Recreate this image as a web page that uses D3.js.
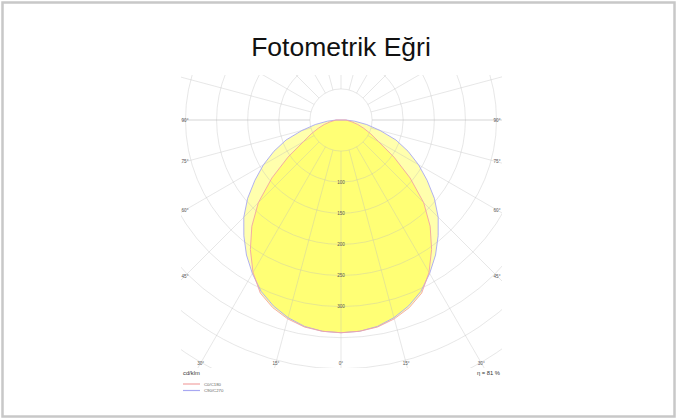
<!DOCTYPE html>
<html>
<head>
<meta charset="utf-8">
<script src="https://cdn.jsdelivr.net/npm/d3@7/dist/d3.min.js"></script>
<style>
  html, body { margin: 0; padding: 0; background: #fff; }
  svg { display: block; }
  text { font-family: "Liberation Sans", Arial, sans-serif; }
</style>
</head>
<body>
<svg id="chart" width="677" height="419"></svg>
<script>
// Gamma angles (degrees from nadir) and luminous intensity in cd/klm
const gammaAngles = [0, 5, 10, 15, 20, 25, 30, 35, 40, 45, 50, 55, 60, 65, 70, 75, 80, 85, 90];
const planeC0C180 = [342, 341, 338, 331, 321, 307, 283, 254, 223, 188, 145, 104, 70, 53, 39, 28, 18, 11, 8];
const planeC90C270 = [342, 341, 337, 329, 318, 304, 285, 265, 243, 221, 196, 169, 144, 119, 94, 65, 42, 22, 8];

const ringValues = [50, 100, 150, 200, 250, 300, 350, 400, 450, 500];
const ringLabelValues = [100, 150, 200, 250, 300];
const spokeAngles = d3.range(0, 360, 15);
const sideLabelAngles = [45, 60, 75, 90];
const bottomLabelAngles = [0, 15, 30];

const legendItems = [
  { name: "C0/C180", color: "#f2a4a4" },
  { name: "C90/C270", color: "#a8a8f2" }
];
const unitLabel = "cd/klm";
const efficiencyLabel = "η = 81 %";
const titleText = "Fotometrik Eğri";

const W = 677, H = 419;
const svg = d3.select("#chart");

// outer frame
svg.append("rect")
  .attr("x", 2.5).attr("y", 2.5)
  .attr("width", W - 5).attr("height", H - 5)
  .attr("fill", "#fff").attr("stroke", "#c8c8c8").attr("stroke-width", 2.5);

svg.append("text")
  .attr("x", 341).attr("y", 56)
  .attr("text-anchor", "middle")
  .attr("font-size", 26.5)
  .attr("fill", "#111")
  .text(titleText);

// polar plot area
const plot = { left: 181, top: 75, right: 502, bottom: 368 };
const cx = 341, cy = 120;
const r = d3.scaleLinear().domain([0, 400]).range([0, 248.8]);

svg.append("clipPath").attr("id", "plotClip")
  .append("rect")
  .attr("x", plot.left).attr("y", plot.top)
  .attr("width", plot.right - plot.left).attr("height", plot.bottom - plot.top);

const g = svg.append("g").attr("clip-path", "url(#plotClip)");

// point for gamma angle (deg from nadir, negative = left) and radius in px
function pt(deg, rad) {
  const a = deg * Math.PI / 180;
  return [cx + rad * Math.sin(a), cy + rad * Math.cos(a)];
}

function curvePoints(values) {
  const pts = [];
  for (let i = gammaAngles.length - 1; i >= 0; i--) pts.push(pt(-gammaAngles[i], r(values[i])));
  for (let i = 1; i < gammaAngles.length; i++) pts.push(pt(gammaAngles[i], r(values[i])));
  return pts;
}

const line = d3.line().curve(d3.curveLinearClosed);

// intensity fills
g.append("path")
  .attr("d", line(curvePoints(planeC90C270)))
  .attr("fill", "#ffff00").attr("fill-opacity", 0.32)
  .attr("stroke", "none");
g.append("path")
  .attr("d", line(curvePoints(planeC0C180)))
  .attr("fill", "#ffff00").attr("fill-opacity", 0.32)
  .attr("stroke", "none");

// grid rings
g.selectAll("circle.ring").data(ringValues).join("circle")
  .attr("class", "ring")
  .attr("cx", cx).attr("cy", cy)
  .attr("r", d => r(d))
  .attr("fill", "none")
  .attr("stroke", "#bdbdbd").attr("stroke-opacity", 0.45).attr("stroke-width", 0.8);

// spokes
g.selectAll("line.spoke").data(spokeAngles).join("line")
  .attr("class", "spoke")
  .attr("x1", d => pt(d, r(50))[0]).attr("y1", d => pt(d, r(50))[1])
  .attr("x2", d => pt(d, r(700))[0]).attr("y2", d => pt(d, r(700))[1])
  .attr("stroke", "#bdbdbd")
  .attr("stroke-opacity", d => (d === 90 || d === 270) ? 0.6 : 0.45)
  .attr("stroke-width", d => (d === 90 || d === 270) ? 1.2 : 0.8);

// curve outlines
g.append("path")
  .attr("d", line(curvePoints(planeC90C270)))
  .attr("fill", "none").attr("stroke", legendItems[1].color).attr("stroke-width", 0.9);
g.append("path")
  .attr("d", line(curvePoints(planeC0C180)))
  .attr("fill", "none").attr("stroke", legendItems[0].color).attr("stroke-width", 0.9);

// ring value labels along the nadir
svg.selectAll("text.rlab").data(ringLabelValues).join("text")
  .attr("class", "rlab")
  .attr("x", cx).attr("y", d => cy + r(d) + 1.6)
  .attr("text-anchor", "middle")
  .attr("font-size", 4.6).attr("fill", "#555")
  .text(d => d);

// angle labels on the sides
const sideDx = cx - (plot.left + 4);
sideLabelAngles.forEach(a => {
  const dy = sideDx / Math.tan(a * Math.PI / 180);
  [-1, 1].forEach(s => {
    svg.append("text")
      .attr("x", cx + s * sideDx).attr("y", cy + dy + 1.6)
      .attr("text-anchor", "middle")
      .attr("font-size", 4.6).attr("fill", "#555")
      .text(a + "°");
  });
});

// angle labels along the bottom
const bottomDy = (plot.bottom - 5) - cy;
bottomLabelAngles.forEach(a => {
  const dx = bottomDy * Math.tan(a * Math.PI / 180);
  const sides = a === 0 ? [1] : [-1, 1];
  sides.forEach(s => {
    svg.append("text")
      .attr("x", cx + s * dx).attr("y", cy + bottomDy + 1.6)
      .attr("text-anchor", "middle")
      .attr("font-size", 4.6).attr("fill", "#555")
      .text(a + "°");
  });
});

// unit and efficiency
svg.append("text")
  .attr("x", 183).attr("y", 375)
  .attr("font-size", 5.8).attr("fill", "#333")
  .text(unitLabel);
svg.append("text")
  .attr("x", 500).attr("y", 375)
  .attr("text-anchor", "end")
  .attr("font-size", 5.8).attr("fill", "#333")
  .text(efficiencyLabel);

// legend
const lg = svg.append("g").attr("transform", "translate(183,384)");
legendItems.forEach((d, i) => {
  lg.append("line")
    .attr("x1", 0).attr("x2", 17)
    .attr("y1", i * 6.5).attr("y2", i * 6.5)
    .attr("stroke", d.color).attr("stroke-width", 1.2);
  lg.append("text")
    .attr("x", 21).attr("y", i * 6.5 + 1.5)
    .attr("font-size", 4.3).attr("fill", "#666")
    .text(d.name);
});
</script>
</body>
</html>
